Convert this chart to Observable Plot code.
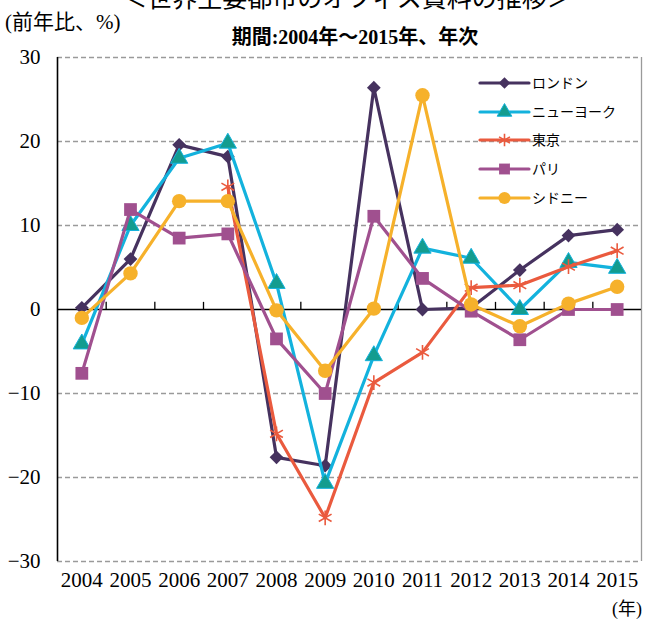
<!DOCTYPE html>
<html><head><meta charset="utf-8">
<script src="https://cdn.jsdelivr.net/npm/d3@7"></script>
<script src="https://cdn.jsdelivr.net/npm/@observablehq/plot@0.6"></script>
<style>
body{margin:0;background:#fff;}
#wrap{position:relative;width:649px;height:622px;overflow:hidden;font-family:"Liberation Serif","Noto Sans CJK JP",serif;color:#000;}
#wrap svg{position:absolute;left:0;top:0;}
.t{position:absolute;white-space:nowrap;line-height:1;}
</style></head><body><div id="wrap"></div>
<script>
const years = [2004,2005,2006,2007,2008,2009,2010,2011,2012,2013,2014,2015];
const london  = [0.2, 6.0, 19.6, 18.2, -17.6, -18.6, 26.4, 0.0, 0.2, 4.7, 8.8, 9.5];
const newYork = [-4.1, 10.0, 18.0, 19.8, 3.1, -20.7, -5.5, 7.3, 6.1, 0.0, 5.6, 4.9];
const tokyo   = [null, null, null, 14.6, -14.8, -24.8, -8.7, -5.1, 2.6, 2.9, 5.1, 7.0];
const paris   = [-7.6, 11.9, 8.5, 9.0, -3.5, -10.0, 11.1, 3.7, -0.2, -3.6, 0.0, 0.0];
const sydney  = [-1.0, 4.3, 12.9, 12.9, -0.1, -7.3, 0.1, 25.5, 0.6, -2.0, 0.7, 2.7];
const cityNames = ["ロンドン","ニューヨーク","東京","パリ","シドニー"];
const yTicks = [30,20,10,0,-10,-20,-30];
const gridTicks = [30,20,10,-10,-20,-30];

const seriesValues = [london, newYork, tokyo, paris, sydney];
const styles = [
  {stroke:"#46325f", symbol:"diamond2", r:6.2, fill:"#46325f", mstroke:"none"},
  {stroke:"#13b2dd", symbol:"triangle", r:6.4, fill:"#139c8f", mstroke:"#13b2dd"},
  {stroke:"#ea5a3e", symbol:"asterisk", r:7, fill:"none", mstroke:"#ea5a3e"},
  {stroke:"#a0508f", symbol:"square", r:7.2, fill:"#a0508f", mstroke:"none"},
  {stroke:"#f6b12b", symbol:"circle", r:7.2, fill:"#f6b12b", mstroke:"none"}
];
const rows = [];
cityNames.forEach((c,i)=>years.forEach((y,j)=>rows.push({city:c, year:y, value:seriesValues[i][j]})));
const bounds = years.slice(1).map(y=>y-0.5);
const fam = '"Liberation Serif","Noto Sans CJK JP",serif';

const marks = [
  Plot.ruleY(gridTicks, {stroke:"#9a9a9a", strokeWidth:1.3, strokeDasharray:"5,3"}),
  Plot.ruleX([2015.5], {stroke:"#9a9a9a", strokeWidth:1.3}),
  Plot.ruleX([2003.5], {stroke:"#000", strokeWidth:1.6}),
  Plot.ruleY([0], {stroke:"#000", strokeWidth:1.6}),
  Plot.ruleX(bounds, {y1:0, y2:0.85, stroke:"#000", strokeWidth:1.3}),
  Plot.axisX(years, {tickSize:0, tickPadding:11, tickFormat:d=>String(d), fontSize:21, label:null}),
  Plot.axisY(yTicks, {tickSize:0, tickPadding:17, tickFormat:d=>d<0?"−"+Math.abs(d):String(d), fontSize:21, label:null})
];
cityNames.forEach((c,i)=>{
  const s = styles[i];
  const data = rows.filter(d=>d.city===c);
  marks.push(Plot.line(data, {x:"year", y:"value", stroke:s.stroke, strokeWidth:3.2}));
  marks.push(Plot.dot(data.filter(d=>d.value!=null), {x:"year", y:"value", symbol:s.symbol, r:s.r, fill:s.fill, stroke:s.mstroke, strokeWidth: s.symbol==="asterisk"?1.6:1}));
});

const chart = Plot.plot({
  width:649, height:622,
  marginLeft:57, marginRight:8, marginTop:57, marginBottom:61,
  x:{type:"linear", domain:[2003.5,2015.5]},
  y:{domain:[-30,30]},
  style:{fontFamily:fam, color:"#000", background:"transparent"},
  marks
});
const wrap = document.getElementById("wrap");
wrap.appendChild(chart);

function addText(txt, css){
  const d = document.createElement("div");
  d.className="t"; d.textContent = txt;
  Object.assign(d.style, css);
  wrap.appendChild(d);
}
addText("＜世界主要都市のオフィス賃料の推移＞", {left:"347px", top:"-14px", fontSize:"25px", transform:"translateX(-50%)"});
addText("(前年比、%)", {left:"5px", top:"12px", fontSize:"21px"});
addText("期間:2004年～2015年、年次", {left:"355px", top:"27px", fontSize:"20px", fontWeight:"bold", transform:"translateX(-50%)"});
addText("(年)", {left:"612px", top:"600px", fontSize:"18px"});

// legend
const legend = d3.create("svg").attr("width",649).attr("height",622).style("pointer-events","none");
const legY = [83,112,140,169,198];
cityNames.forEach((c,i)=>{
  const s = styles[i];
  const g = legend.append("g").attr("transform",`translate(0,${legY[i]})`);
  g.append("line").attr("x1",480).attr("x2",529).attr("y1",0).attr("y2",0)
    .attr("stroke",s.stroke).attr("stroke-width",3.2).attr("stroke-linecap","round");
  const symMap = {diamond2:d3.symbolDiamond2, triangle:d3.symbolTriangle, asterisk:d3.symbolAsterisk, square:d3.symbolSquare, circle:d3.symbolCircle};
  const rr = s.r*0.85;
  g.append("path").attr("transform","translate(504.5,0)")
    .attr("d", d3.symbol(symMap[s.symbol], Math.PI*rr*rr)())
    .attr("fill", s.fill).attr("stroke", s.mstroke==="none"?null:s.mstroke)
    .attr("stroke-width", s.symbol==="asterisk"?1.6:1);
  g.append("text").attr("x",532).attr("y",0).attr("dy","0.36em")
    .attr("font-size",14).attr("font-family",'"Noto Sans CJK JP",sans-serif').text(c);
});
wrap.appendChild(legend.node());
</script>
</body></html>
